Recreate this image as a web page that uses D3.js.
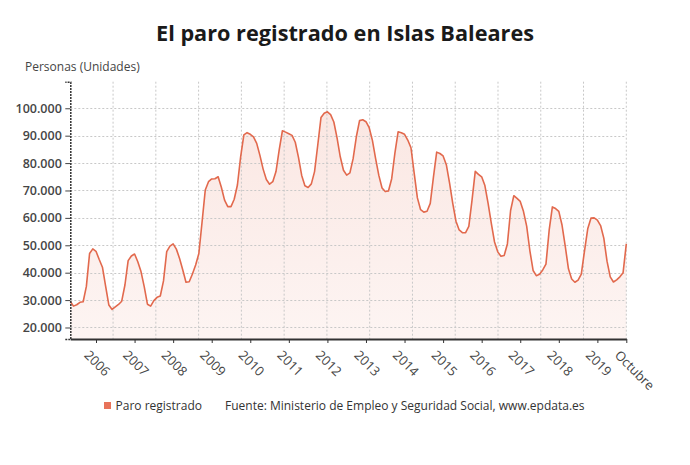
<!DOCTYPE html>
<html>
<head>
<meta charset="utf-8">
<script src="https://cdn.jsdelivr.net/npm/d3@7"></script>
<style>
  html, body { margin: 0; padding: 0; background: #fff; }
  svg { display: block; font-family: "Open Sans", sans-serif; }
</style>
</head>
<body>
<svg id="chart" width="690" height="465"></svg>
<script>
// ---- data ----
const title = "El paro registrado en Islas Baleares";
const yAxisTitle = "Personas (Unidades)";
const seriesName = "Paro registrado";
const sourceText = "Fuente: Ministerio de Empleo y Seguridad Social, www.epdata.es";
const firstMonth = "2005-05";
const lastMonth = "2019-10";
// monthly registered unemployment, May 2005 .. Oct 2019
const values = [
  29500, 27800, 28300, 29200, 29400, 35000, 47000, 48700,            // 2005 May-Dec
  47800, 44800, 42000, 35000, 28200, 26600, 27500, 28400, 29600, 35500, 44400, 46100, // 2006
  46800, 44000, 40400, 34900, 28500, 27800, 29800, 31000, 31500, 37000, 47700, 49700, // 2007
  50500, 48600, 45200, 41000, 36500, 36700, 39500, 42800, 47000, 58500, 70200, 73200, // 2008
  74200, 74300, 75000, 71200, 66500, 64100, 64100, 66800, 72000, 82300, 90300, 91100, // 2009
  90500, 89600, 87200, 82800, 77800, 74000, 72300, 73200, 76900, 84800, 91800, 91300, // 2010
  90700, 90100, 87600, 82100, 75500, 71700, 71100, 72400, 76900, 86600, 96600, 98200, // 2011
  98700, 97700, 95000, 89200, 82300, 77400, 75600, 76400, 81600, 89600, 95500, 95800, // 2012
  95100, 92900, 88300, 81600, 75500, 70900, 69600, 69800, 74300, 83600, 91400, 91100, // 2013
  90500, 88400, 85600, 76300, 67300, 63000, 62100, 62400, 65300, 75000, 84000, 83500, // 2014
  82600, 79400, 72800, 65300, 58800, 55600, 54600, 54600, 56900, 66500, 77000, 75900, // 2015
  75000, 71800, 65300, 58000, 51200, 47600, 46000, 46300, 50500, 62700, 68100, 67100, // 2016
  66000, 62400, 57000, 48000, 40800, 38900, 39400, 41000, 43100, 55500, 64000, 63400, // 2017
  62400, 57400, 49700, 41400, 37700, 36500, 37300, 39500, 48000, 56000, 59900, 60000, // 2018
  59200, 57200, 52600, 44200, 38500, 36600, 37400, 38500, 40000, 50500               // 2019 Jan-Oct
];
const yTicks = [20000, 30000, 40000, 50000, 60000, 70000, 80000, 90000, 100000];
const xTickLabels = ["2006","2007","2008","2009","2010","2011","2012","2013","2014","2015","2016","2017","2018","2019","Octubre"];
const xTickMonths = ["2006-01","2007-01","2008-01","2009-01","2010-01","2011-01","2012-01","2013-01","2014-01","2015-01","2016-01","2017-01","2018-01","2019-01","2019-10"];
const yDomain = [15800, 109700];
const verticalGridCount = 13;

// ---- layout ----
const W = 690, H = 465;
const M = { left: 70.3, right: 63.7, top: 81.7, bottom: 126 };
const innerBottom = H - M.bottom;
const lineColor = "#e2694d";
const textColor = "#454545";

const parseM = d3.timeParse("%Y-%m");
const fmtM = d3.timeFormat("%Y-%m");
const months = d3.timeMonth.range(parseM(firstMonth), d3.timeMonth.offset(parseM(lastMonth), 1)).map(fmtM);
const data = months.map((m, i) => ({ m, i, v: values[i] }));

const svg = d3.select("#chart");

const x = d3.scaleLinear().domain([0, months.length - 1]).range([M.left, W - M.right]);
const y = d3.scaleLinear().domain(yDomain).range([innerBottom, M.top]);
const gridX = d3.scaleLinear().domain([0, verticalGridCount]).range([M.left, W - M.right]);

const loc = d3.formatLocale({ decimal: ",", thousands: ".", grouping: [3], currency: ["", "€"] });
const fmt = loc.format(",.0f");

// gradient
const defs = svg.append("defs");
const grad = defs.append("linearGradient").attr("id", "fillGrad")
  .attr("x1", 0).attr("y1", 0).attr("x2", 0).attr("y2", 1);
grad.append("stop").attr("offset", "0%").attr("stop-color", lineColor).attr("stop-opacity", 0.16);
grad.append("stop").attr("offset", "100%").attr("stop-color", lineColor).attr("stop-opacity", 0.07);

// title
svg.append("text").attr("x", W / 2).attr("y", 41).attr("text-anchor", "middle")
  .attr("font-size", 21.7).attr("font-weight", 700).attr("fill", "#1a1a1a").text(title);

// y axis title
svg.append("text").attr("x", 25).attr("y", 70.5).attr("font-size", 12).attr("fill", textColor).text(yAxisTitle);

// area
const area = d3.area().x(d => x(d.i)).y0(innerBottom).y1(d => y(d.v));
svg.append("path").datum(data).attr("d", area).attr("fill", "url(#fillGrad)");

// grid
const grid = svg.append("g").attr("stroke", "#c8c8c8").attr("stroke-width", 1).attr("stroke-dasharray", "2,2");
grid.selectAll("line.h").data(yTicks).join("line")
  .attr("x1", M.left).attr("x2", W - M.right)
  .attr("y1", d => Math.round(y(d)) + 0.5).attr("y2", d => Math.round(y(d)) + 0.5);
grid.selectAll("line.v").data(d3.range(1, verticalGridCount + 1)).join("line")
  .attr("x1", d => gridX(d)).attr("x2", d => gridX(d))
  .attr("y1", M.top).attr("y2", innerBottom);

// line
const line = d3.line().x(d => x(d.i)).y(d => y(d.v));
svg.append("path").datum(data).attr("d", line).attr("fill", "none")
  .attr("stroke", lineColor).attr("stroke-width", 1.6).attr("stroke-linejoin", "round");

// y axis
const yAxis = svg.append("g").attr("transform", `translate(${M.left},0)`)
  .call(d3.axisLeft(y).tickValues(yTicks).tickFormat(fmt).tickSize(5).tickPadding(3.5));
yAxis.select(".domain").attr("stroke", "#333").attr("stroke-width", 1.5).attr("stroke-dasharray", "2,1");
yAxis.selectAll(".tick line").attr("stroke", "#444");
yAxis.selectAll("text").attr("font-size", 12.5).attr("font-weight", 600).attr("fill", textColor)
  .attr("font-family", "Open Sans, sans-serif");

// x axis
const tickIdx = xTickMonths.map(m => months.indexOf(m));
const xAxis = svg.append("g").attr("transform", `translate(0,${innerBottom})`)
  .call(d3.axisBottom(x).tickValues(tickIdx).tickFormat((d, i) => xTickLabels[i]).tickSize(4).tickSizeOuter(0));
xAxis.select(".domain").attr("stroke", "#333").attr("stroke-width", 2);
xAxis.selectAll(".tick line").attr("stroke", "#333");
xAxis.selectAll("text")
  .attr("font-size", 13).attr("fill", textColor).attr("font-family", "Open Sans, sans-serif")
  .attr("text-anchor", "start").attr("dy", null)
  .attr("transform", "translate(-5,9) rotate(45)").attr("y", 0).attr("x", 0)
  .attr("dominant-baseline", "hanging");

// legend
const lg = svg.append("g");
lg.append("rect").attr("x", 104).attr("y", 402).attr("width", 7).attr("height", 7).attr("fill", "#e8735a");
lg.append("text").attr("x", 115.5).attr("y", 410).attr("font-size", 12).attr("fill", "#333").text(seriesName);
lg.append("text").attr("x", 225).attr("y", 410).attr("font-size", 12).attr("fill", "#333").text(sourceText);
</script>
</body>
</html>
